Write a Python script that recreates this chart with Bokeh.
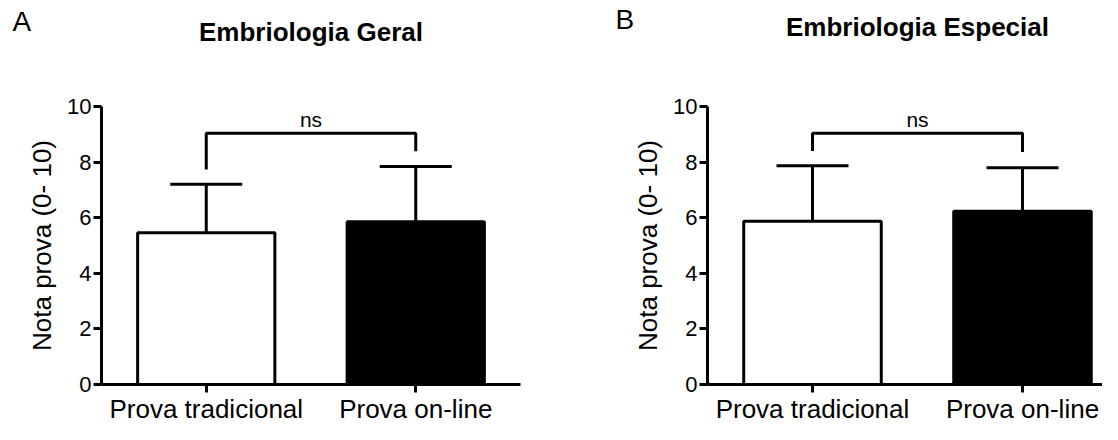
from bokeh.plotting import figure
from bokeh.models import Range1d, FixedTicker, Whisker, TeeHead, Label, ColumnDataSource
from bokeh.layouts import row
from bokeh.core.properties import value
from bokeh.embed import file_html
from bokeh.resources import INLINE

# ---- data ----
categories = ["Prova tradicional", "Prova on-line"]
panel_letters = ["A", "B"]
titles = ["Embriologia Geral", "Embriologia Especial"]
means_geral = [5.46, 5.85]
sd_geral = [1.74, 1.99]
means_especial = [5.87, 6.23]
sd_especial = [2.00, 1.57]
bracket_top = [9.04, 9.04]
bracket_ends_geral = [7.73, 8.39]
bracket_ends_especial = [8.40, 8.36]
sig_labels = ["ns", "ns"]
y_ticks = [0, 2, 4, 6, 8, 10]
bar_colors = ["white", "black"]

FONT = "Liberation Sans"
TOP = 106


def make_panel(letter, title, means, sds, b_top, b_ends, sig, x_end, frame_w,
               border_l, border_r, title_y, title_size, letter_x, letter_y):
    p = figure(output_backend="svg", toolbar_location=None,
               frame_width=frame_w, frame_height=278,
               min_border_left=border_l, min_border_right=border_r,
               min_border_top=TOP, min_border_bottom=0,
               x_range=Range1d(-0.5, x_end), y_range=Range1d(0, 10),
               background_fill_color="white", border_fill_color="white")
    p.outline_line_color = None
    p.grid.visible = False

    xs = list(range(len(categories)))
    src = ColumnDataSource(dict(x=xs, top=means,
                                upper=[m + s for m, s in zip(means, sds)],
                                color=bar_colors))
    p.vbar(x="x", top="top", width=0.655, source=src, fill_color="color",
           line_color="black", line_width=3)
    w = Whisker(base="x", lower="top", upper="upper", source=src,
                line_color="black", line_width=3, lower_head=None,
                upper_head=TeeHead(size=72, line_color="black", line_width=3))
    p.add_layout(w)

    # significance bracket
    p.line(x=[xs[0], xs[0], xs[1], xs[1]],
           y=[b_ends[0], b_top, b_top, b_ends[1]],
           line_color="black", line_width=3)
    p.text(x=[(xs[0] + xs[1]) / 2], y=[b_top + 0.51], text=[sig],
           text_align="center", text_baseline="alphabetic",
           text_font=value(FONT), text_font_size="21px", text_color="black")

    # axes
    for ax in (p.xaxis[0], p.yaxis[0]):
        ax.axis_line_width = 3
        ax.axis_line_color = "black"
        ax.major_tick_line_width = 3
        ax.major_tick_line_color = "black"
        ax.major_tick_out = 8
        ax.major_tick_in = 0
        ax.minor_tick_line_color = None
        ax.major_label_text_font = FONT
        ax.major_label_text_color = "black"
    p.yaxis.ticker = FixedTicker(ticks=y_ticks)
    p.yaxis.bounds = (0, 10)
    p.yaxis.major_label_text_font_size = "22px"
    p.yaxis.major_label_standoff = 2
    p.yaxis.axis_label = "Nota prova (0- 10)"
    p.yaxis.axis_label_text_font = FONT
    p.yaxis.axis_label_text_font_style = "normal"
    p.yaxis.axis_label_text_font_size = "26px"
    p.yaxis.axis_label_text_color = "black"
    p.yaxis.axis_label_standoff = 7

    p.xaxis.ticker = FixedTicker(ticks=xs)
    p.xaxis.major_label_overrides = {i: c for i, c in zip(xs, categories)}
    p.xaxis.major_label_text_font_size = "26px"
    p.xaxis.major_label_standoff = 1

    # title and panel letter, placed in the panels above the frame
    p.add_layout(Label(x=0.5, y=title_y, x_units="data", y_units="screen",
                       text=title, text_align="center",
                       text_baseline="alphabetic", text_font=FONT,
                       text_font_style="bold", text_font_size=title_size,
                       text_color="black"), "above")
    p.add_layout(Label(x=letter_x, y=letter_y, x_units="data", y_units="screen",
                       text=letter, text_align="left",
                       text_baseline="alphabetic", text_font=FONT,
                       text_font_size="28px", text_color="black"), "above")
    return p


p1 = make_panel(panel_letters[0], titles[0], means_geral, sd_geral,
                bracket_top[0], bracket_ends_geral, sig_labels[0],
                x_end=1.5, frame_w=419, border_l=101, border_r=40,
                title_y=75, title_size="26px", letter_x=-0.925, letter_y=55)
p2 = make_panel(panel_letters[1], titles[1], means_especial, sd_especial,
                bracket_top[1], bracket_ends_especial, sig_labels[1],
                x_end=1.381, frame_w=395, border_l=147, border_r=0,
                title_y=80, title_size="26px", letter_x=-0.938, letter_y=57)

layout = row(p1, p2, spacing=0)
open("out.html", "w").write(file_html(layout, INLINE))
